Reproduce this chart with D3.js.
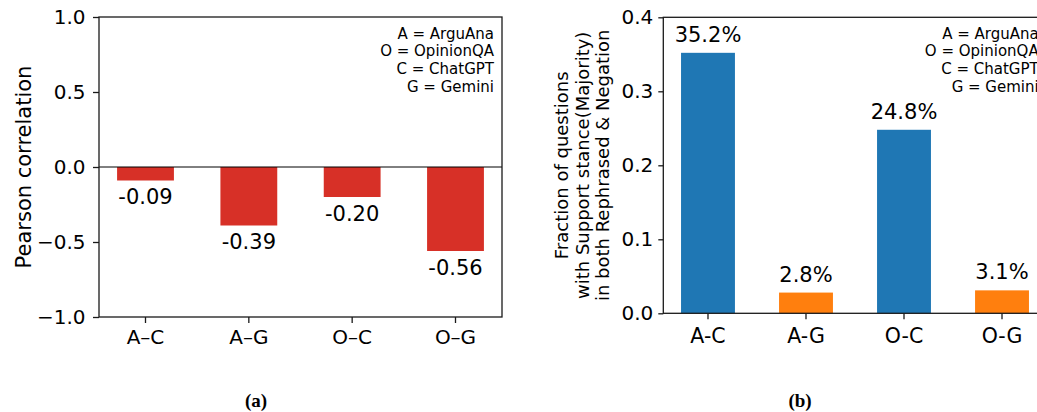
<!DOCTYPE html>
<html>
<head>
<meta charset="utf-8">
<script src="https://cdn.jsdelivr.net/npm/d3@7"></script>
<style>
  html, body { margin: 0; padding: 0; background: #fff; }
  svg { display: block; }
</style>
</head>
<body>
<svg id="fig" width="1037" height="412" font-family="DejaVu Sans, sans-serif"></svg>
<script>
// Panel (a): Pearson correlation between stance scores
const pairsA = ["A–C", "A–G", "O–C", "O–G"];
const corrValues = [-0.09, -0.39, -0.20, -0.56];
const corrTicks = [-1.0, -0.5, 0.0, 0.5, 1.0];

// Panel (b): fraction of questions with a consistent Support stance
const pairsB = ["A-C", "A-G", "O-C", "O-G"];
const supportFraction = [0.352, 0.028, 0.248, 0.031];
const supportColors = ["#1f77b4", "#ff7f0e", "#1f77b4", "#ff7f0e"];
const fracTicks = [0.0, 0.1, 0.2, 0.3, 0.4];

const abbreviations = ["A = ArguAna", "O = OpinionQA", "C = ChatGPT", "G = Gemini"];

const svg = d3.select("#fig");
const spine = "#1a1a1a";
const sans = "DejaVu Sans, sans-serif";

function legendBlock(g, xRight, yTop) {
  g.append("g").selectAll("text").data(abbreviations).join("text")
    .attr("x", xRight)
    .attr("y", (d, i) => yTop + i * 17.8)
    .attr("text-anchor", "end")
    .attr("font-family", sans)
    .attr("font-size", 15)
    .text(d => d);
}

function styleAxis(g, fontSize) {
  g.attr("font-family", sans);
  g.selectAll(".domain").remove();
  g.selectAll(".tick line").attr("stroke", spine).attr("stroke-width", 1.3);
  g.selectAll(".tick text").attr("font-size", fontSize).attr("fill", "#000");
}

// ---------- Panel (a) ----------
{
  const L = 99, R = 502, T = 17, B = 317;
  const x = d3.scaleBand().domain(pairsA).range([L, R]).paddingInner(0.45).paddingOuter(0.175);
  const y = d3.scaleLinear().domain([-1, 1]).range([B, T]);
  const g = svg.append("g");

  g.selectAll("rect.bar").data(corrValues).join("rect")
    .attr("class", "bar")
    .attr("x", (d, i) => x(pairsA[i]))
    .attr("width", x.bandwidth())
    .attr("y", y(0))
    .attr("height", d => y(d) - y(0))
    .attr("fill", "#d73027");

  // zero reference line
  g.append("line").attr("x1", L).attr("x2", R).attr("y1", y(0)).attr("y2", y(0))
    .attr("stroke", "#000").attr("stroke-width", 1);

  g.selectAll("text.val").data(corrValues).join("text")
    .attr("class", "val")
    .attr("x", (d, i) => x(pairsA[i]) + x.bandwidth() / 2)
    .attr("y", d => y(d) + 23.5)
    .attr("text-anchor", "middle")
    .attr("font-family", sans)
    .attr("font-size", 21)
    .text(d => d.toFixed(2));

  const yAxis = g.append("g").attr("transform", `translate(${L},0)`)
    .call(d3.axisLeft(y).tickValues(corrTicks).tickFormat(d3.format(".1f")).tickSize(6).tickPadding(7.5));
  styleAxis(yAxis, 20);

  const xAxis = g.append("g").attr("transform", `translate(0,${B})`)
    .call(d3.axisBottom(x).tickSize(6).tickPadding(7));
  styleAxis(xAxis, 20);

  g.append("rect").attr("x", L).attr("y", T).attr("width", R - L).attr("height", B - T)
    .attr("fill", "none").attr("stroke", spine).attr("stroke-width", 1.3);

  g.append("text")
    .attr("transform", `translate(31,${(T + B) / 2}) rotate(-90)`)
    .attr("text-anchor", "middle")
    .attr("font-family", sans)
    .attr("font-size", 21)
    .text("Pearson correlation");

  legendBlock(g, R - 8, 38.5);

  g.append("text").attr("x", 256).attr("y", 407).attr("text-anchor", "middle")
    .attr("font-family", "Liberation Serif, serif").attr("font-weight", "bold").attr("font-size", 19)
    .text("(a)");
}

// ---------- Panel (b) ----------
{
  const L = 663.3, R = 1046.7, T = 17.3, B = 313.3;
  const x = d3.scaleBand().domain(pairsB).range([L, R]).paddingInner(0.45).paddingOuter(0.181);
  const y = d3.scaleLinear().domain([0, 0.4]).range([B, T]);
  const g = svg.append("g");

  g.selectAll("rect.bar").data(supportFraction).join("rect")
    .attr("class", "bar")
    .attr("x", (d, i) => x(pairsB[i]))
    .attr("width", x.bandwidth())
    .attr("y", d => y(d))
    .attr("height", d => y(0) - y(d))
    .attr("fill", (d, i) => supportColors[i]);

  g.selectAll("text.val").data(supportFraction).join("text")
    .attr("class", "val")
    .attr("x", (d, i) => x(pairsB[i]) + x.bandwidth() / 2)
    .attr("y", d => y(d) - 11)
    .attr("text-anchor", "middle")
    .attr("font-family", sans)
    .attr("font-size", 21)
    .text(d => (d * 100).toFixed(1) + "%");

  const yAxis = g.append("g").attr("transform", `translate(${L},0)`)
    .call(d3.axisLeft(y).tickValues(fracTicks).tickFormat(d3.format(".1f")).tickSize(5).tickPadding(5));
  styleAxis(yAxis, 20);

  const xAxis = g.append("g").attr("transform", `translate(0,${B})`)
    .call(d3.axisBottom(x).tickSize(6).tickPadding(9));
  styleAxis(xAxis, 20.5);

  g.append("rect").attr("x", L).attr("y", T).attr("width", R - L).attr("height", B - T)
    .attr("fill", "none").attr("stroke", spine).attr("stroke-width", 1.3);

  const labelLines = ["Fraction of questions", "with Support stance(Majority)", "in both Rephrased & Negation"];
  g.append("g").selectAll("text").data(labelLines).join("text")
    .attr("transform", (d, i) => `translate(${568 + i * 20.5},${(T + B) / 2}) rotate(-90)`)
    .attr("text-anchor", "middle")
    .attr("font-family", sans)
    .attr("font-size", 18)
    .text(d => d);

  legendBlock(g, R - 8, 38.5);

  g.append("text").attr("x", 800).attr("y", 407).attr("text-anchor", "middle")
    .attr("font-family", "Liberation Serif, serif").attr("font-weight", "bold").attr("font-size", 19)
    .text("(b)");
}
</script>
</body>
</html>
